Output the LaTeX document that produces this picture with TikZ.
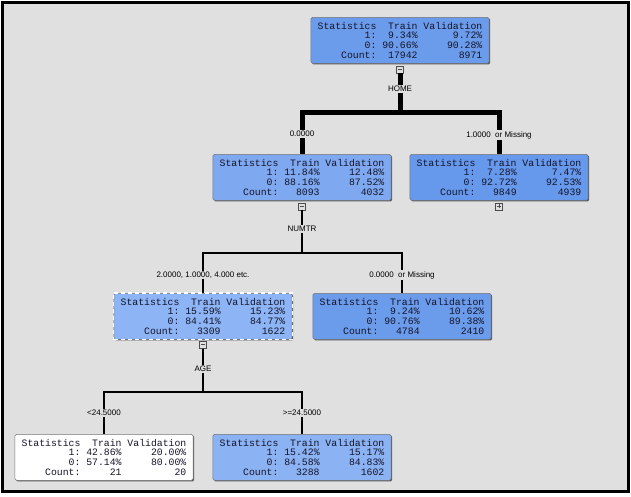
\documentclass[tikz,border=0pt]{standalone}
\usepackage{fontspec}
\setmonofont{Liberation Mono}
\setsansfont{Liberation Sans}
\usetikzlibrary{shadows,fit,positioning}
\definecolor{bgc}{HTML}{E0E0E0}
\definecolor{bA}{HTML}{6B9BEB}
\definecolor{bB}{HTML}{7EA8F0}
\definecolor{bC}{HTML}{6698EC}
\definecolor{bD}{HTML}{8DB4F5}
\definecolor{bE}{HTML}{6B9BEB}
\definecolor{bF}{HTML}{8BB2F3}
\definecolor{txt}{HTML}{141428}
\newlength\cw
\setlength\cw{5.88pt}
\newcommand\srow[3]{\makebox[10\cw][r]{#1}\makebox[7\cw][r]{#2}\makebox[11\cw][r]{#3}}
\newcommand\stats[6]{\srow{Statistics}{Train}{Validation}\\\srow{1:}{#1}{#2}\\\srow{0:}{#3}{#4}\\\srow{Count:}{#5}{#6}}
\tikzset{
  statbox/.style={draw=black!55, line width=0.5pt, rounded corners=1.5pt, anchor=north,
    minimum width=178pt, minimum height=46pt, inner xsep=6.7pt, inner ysep=0pt, align=left,
    text=txt, font=\fontsize{9.8}{9.7}\selectfont\ttfamily,
    drop shadow={shadow xshift=1.2pt, shadow yshift=-1.2pt, fill=black!65, opacity=1}},
  selbox/.style={draw=white, line width=1.3pt, dash pattern=on 4pt off 3pt},
  btn/.style={draw=black!70, fill=black!12, line width=0.6pt, minimum size=7pt, inner sep=0pt, anchor=north},
  minusbtn/.style={btn, path picture={\draw[line width=0.8pt] ([xshift=1.5pt]path picture bounding box.west) -- ([xshift=-1.5pt]path picture bounding box.east);}},
  plusbtn/.style={btn, path picture={\draw[line width=0.8pt] ([xshift=1.5pt]path picture bounding box.west) -- ([xshift=-1.5pt]path picture bounding box.east);
     \draw[line width=0.8pt] ([yshift=-1.5pt]path picture bounding box.north) -- ([yshift=1.5pt]path picture bounding box.south);}},
  lab/.style={fill=bgc, inner xsep=1pt, inner ysep=1pt, font=\sffamily\fontsize{8}{9.5}\selectfont},
  wA/.style={line width=5pt, line join=miter},
  wB/.style={line width=2.2pt, line join=miter},
  wC/.style={line width=1.6pt, line join=miter},
}
\begin{document}
\begin{tikzpicture}[x=1pt,y=-1pt]
\fill[white] (0,0) rectangle (631,496);
\useasboundingbox (0,0) rectangle (631,496);
\draw[line width=3pt, fill=bgc] (2.5,2.5) rectangle (628.5,491.5);

% nodes
\node[statbox, fill=bA] (n0) at (400,17) {\stats{9.34\%}{9.72\%}{90.66\%}{90.28\%}{17942}{8971}};
\node[statbox, fill=bB] (n1) at (302,154) {\stats{11.84\%}{12.48\%}{88.16\%}{87.52\%}{8093}{4032}};
\node[statbox, fill=bC] (n2) at (499,154) {\stats{7.28\%}{7.47\%}{92.72\%}{92.53\%}{9849}{4939}};
\node[statbox, fill=bD] (n3) at (203,293) {\stats{15.59\%}{15.23\%}{84.41\%}{84.77\%}{3309}{1622}};
\node[selbox, fit=(n3), inner sep=0pt] (sel) {};
\node[statbox, fill=bE] (n4) at (402,293) {\stats{9.24\%}{10.62\%}{90.76\%}{89.38\%}{4784}{2410}};
\node[statbox, fill=white] (n5) at (104,434) {\stats{42.86\%}{20.00\%}{57.14\%}{80.00\%}{21}{20}};
\node[statbox, fill=bF] (n6) at (302,434) {\stats{15.42\%}{15.17\%}{84.58\%}{84.83\%}{3288}{1602}};

% buttons
\node[minusbtn, below=2pt of n0.south, anchor=north] (b0) {};
\node[minusbtn, below=2pt of n1.south, anchor=north] (b1) {};
\node[plusbtn, below=2pt of n2.south, anchor=north] (b2) {};
\node[minusbtn, below=1.5pt of n3.south, anchor=north] (b3) {};

% split coordinates
\coordinate (h0) at (b0.south |- 0,112);
\coordinate (h1) at (b1.south |- 0,253);
\coordinate (h3) at (b3.south |- 0,392);

% connectors
\draw[wA] (b0.south) -- (h0);
\draw[wA] (n1.north) |- (h0) -| (n2.north);
\draw[wB] (b1.south) -- (h1);
\draw[wB] (n3.north) |- (h1) -| (n4.north);
\draw[wC] (b3.south) -- (h3);
\draw[wC] (n5.north) |- (h3) -| (n6.north);

% labels
\node[lab] (lhome) at (b0.south |- 0,89) {HOME};
\node[lab] (l1) at (n1.north |- 0,134) {0.0000};
\node[lab] (l2) at (n2.north |- 0,135) {1.0000\ \ or Missing};
\node[lab] (lnum) at (b1.south |- 0,229) {NUMTR};
\node[lab] (l3) at (n3.north |- 0,275) {2.0000, 1.0000, 4.000 etc.};
\node[lab] (l4) at (n4.north |- 0,275) {0.0000\ \ or Missing};
\node[lab] (lage) at (b3.south |- 0,369) {AGE};
\node[lab] (l5) at (n5.north |- 0,413) {<24.5000};
\node[lab] (l6) at (n6.north |- 0,413) {>=24.5000};
\end{tikzpicture}
\end{document}
